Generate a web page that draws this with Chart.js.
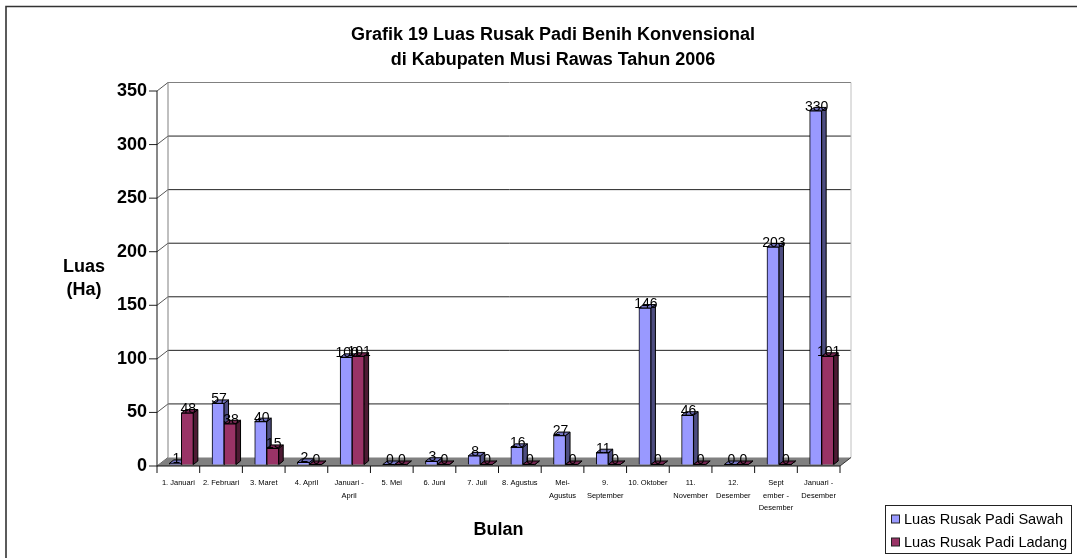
<!DOCTYPE html>
<html>
<head>
<meta charset="utf-8">
<style>
  html, body { margin: 0; padding: 0; background: #fff; }
  #wrap { width: 1086px; height: 558px; position: relative; }
</style>
<script src="https://cdn.jsdelivr.net/npm/chart.js@4"></script>
</head>
<body>
<div id="wrap"><canvas id="myChart" width="1086" height="558"></canvas></div>
<script>
const categories = [
    "1. Januari", "2. Februari", "3. Maret", "4. April", ["Januari -", "April"],
    "5. Mei", "6. Juni", "7. Juli", "8. Agustus", ["Mei-", "Agustus"],
    ["9.", "September"], "10. Oktober", ["11.", "November"], ["12.", "Desember"],
    ["Sept", "ember -", "Desember"], ["Januari -", "Desember"]
];
const sawah = [1, 57, 40, 2, 100, 0, 3, 8, 16, 27, 11, 146, 46, 0, 203, 330];
const ladang = [48, 38, 15, 0, 101, 0, 0, 0, 0, 0, 0, 0, 0, 0, 0, 101];
const yTicks = [0, 50, 100, 150, 200, 250, 300, 350];
const titleLines = ["Grafik 19 Luas Rusak Padi Benih Konvensional", "di Kabupaten Musi Rawas Tahun 2006"];
const yTitleLines = ["Luas", "(Ha)"];
const seriesNames = ["Luas Rusak Padi Sawah", "Luas Rusak Padi Ladang"];

const FONT = '"Liberation Sans", Arial, sans-serif';
const wallX = 11, wallY = 8.5;  // depth of the floor
const barX = 4.5, barY = 3.5;   // depth of a bar
const shiftX = 3, shiftY = -1.5;

const sideColors = ["#4d4d80", "#4d1a33"];
const topColors = ["#7373bf", "#732650"];

function poly(ctx, pts, fill, stroke) {
    ctx.beginPath();
    pts.forEach((p, i) => i ? ctx.lineTo(p[0], p[1]) : ctx.moveTo(p[0], p[1]));
    ctx.closePath();
    if (fill) { ctx.fillStyle = fill; ctx.fill(); }
    if (stroke) { ctx.strokeStyle = stroke; ctx.lineWidth = 1; ctx.stroke(); }
}

function seg(ctx, x1, y1, x2, y2, color) {
    ctx.strokeStyle = color;
    ctx.lineWidth = 1;
    ctx.beginPath();
    ctx.moveTo(x1, y1);
    ctx.lineTo(x2, y2);
    ctx.stroke();
}

const threeD = {
    id: "threeD",
    // frame, walls, floor, ticks, then sides and tops of the bars
    beforeDatasetsDraw(chart) {
        const ctx = chart.ctx, xs = chart.scales.x, ys = chart.scales.y;
        const y0 = ys.getPixelForValue(0), yMax = ys.getPixelForValue(350);
        const l = xs.left, r = xs.right;

        ctx.save();
        // frame has no right side in the picture
        ctx.strokeStyle = "#333";
        ctx.lineWidth = 1.6;
        ctx.beginPath();
        ctx.moveTo(6, 558);
        ctx.lineTo(6, 6.5);
        ctx.lineTo(1077, 6.5);
        ctx.stroke();

        // back wall lines
        yTicks.forEach(v => {
            const y = ys.getPixelForValue(v);
            if (v > 0 && v < 350) seg(ctx, l + wallX, y - wallY, r + wallX, y - wallY, "#222");
            seg(ctx, l, y, l + wallX, y - wallY, "#555");
            seg(ctx, l - 8, y, l, y, "#222");
        });
        seg(ctx, l + wallX, yMax - wallY, r + wallX, yMax - wallY, "#808080");
        seg(ctx, l + wallX, y0 - wallY, l + wallX, yMax - wallY, "#808080");
        seg(ctx, r + wallX, y0 - wallY, r + wallX, yMax - wallY, "#c0c0c0");
        seg(ctx, l, y0, l, yMax, "#111");

        // floor
        poly(ctx, [[l, y0], [r, y0], [r + wallX, y0 - wallY], [l + wallX, y0 - wallY]], "#808080");
        seg(ctx, r, y0, r + wallX, y0 - wallY, "#333");
        seg(ctx, l, y0, r, y0, "#111");

        // x axis ticks
        for (let i = 0; i <= categories.length; i++) {
            const x = l + (r - l) * i / categories.length;
            seg(ctx, x, y0, x, y0 + 7, "#111");
        }

        ctx.translate(shiftX, shiftY);
        chart.data.datasets.forEach((ds, i) => {
            chart.getDatasetMeta(i).data.forEach(bar => {
                const p = bar.getProps(["x", "y", "base", "width"], true);
                const x1 = p.x - p.width / 2, x2 = p.x + p.width / 2;
                poly(ctx, [[x2, p.y], [x2 + barX, p.y - barY], [x2 + barX, p.base - barY], [x2, p.base]], sideColors[i], "#000");
                poly(ctx, [[x1, p.y], [x2, p.y], [x2 + barX, p.y - barY], [x1 + barX, p.y - barY]], topColors[i], "#000");
            });
        });
        ctx.restore();
    },
    // the fronts come from the library, moved onto the floor
    beforeDatasetDraw(chart) {
        chart.ctx.save();
        chart.ctx.translate(shiftX, shiftY);
    },
    afterDatasetDraw(chart) {
        chart.ctx.restore();
    },
    // value labels and other texts
    afterDraw(chart) {
        const ctx = chart.ctx;
        ctx.save();
        ctx.fillStyle = "#000";
        ctx.textAlign = "center";
        ctx.textBaseline = "middle";

        ctx.font = "14px " + FONT;
        chart.data.datasets.forEach((ds, i) => {
            chart.getDatasetMeta(i).data.forEach((bar, j) => {
                ctx.fillText(ds.data[j], bar.x + shiftX + 1, bar.y + shiftY - 4);
            });
        });

        ctx.font = "bold 18px " + FONT;
        titleLines.forEach((t, i) => ctx.fillText(t, 553, 35 + i * 25));
        yTitleLines.forEach((t, i) => ctx.fillText(t, 84, 267 + i * 23));

        // legend box
        ctx.strokeStyle = "#222";
        ctx.lineWidth = 1;
        ctx.strokeRect(885.5, 505.5, 186, 48);
        ctx.textAlign = "left";
        ctx.font = "14.6px " + FONT;
        seriesNames.forEach((t, i) => {
            const y = 519.5 + i * 23;
            ctx.fillStyle = chart.data.datasets[i].backgroundColor;
            ctx.fillRect(891.5, y - 4.5, 8, 8);
            ctx.strokeRect(891.5, y - 4.5, 8, 8);
            ctx.fillStyle = "#000";
            ctx.fillText(t, 904, y);
        });
        ctx.restore();
    }
};

const myChart = new Chart(document.getElementById("myChart").getContext("2d"), {
    type: "bar",
    data: {
        labels: categories,
        datasets: [
            { label: seriesNames[0], data: sawah, backgroundColor: "#9999ff", borderColor: "#000", borderWidth: 1, clip: false },
            { label: seriesNames[1], data: ladang, backgroundColor: "#993366", borderColor: "#000", borderWidth: 1, clip: false }
        ]
    },
    options: {
        responsive: false,
        animation: false,
        layout: { padding: { left: 0, right: 246, top: 91, bottom: 0 } },
        datasets: { bar: { barThickness: 12, categoryPercentage: 1, barPercentage: 1 } },
        plugins: { legend: { display: false }, tooltip: { enabled: false } },
        scales: {
            x: {
                afterFit(scale) { scale.height = 92; },
                grid: { display: false },
                border: { display: false },
                title: { display: true, text: "Bulan", color: "#000", font: { family: FONT, size: 18, weight: "bold" }, padding: { top: 0, bottom: 17 } },
                ticks: { color: "#000", maxRotation: 0, autoSkip: false, padding: 3, font: { family: FONT, size: 7.5, lineHeight: 1.67 } }
            },
            y: {
                min: 0,
                max: 350,
                afterFit(scale) { scale.width = 157; },
                grid: { display: false, drawTicks: false },
                border: { display: false },
                ticks: { stepSize: 50, color: "#000", padding: 10, font: { family: FONT, size: 18, weight: "bold" } }
            }
        }
    },
    plugins: [threeD]
});
</script>
</body>
</html>
